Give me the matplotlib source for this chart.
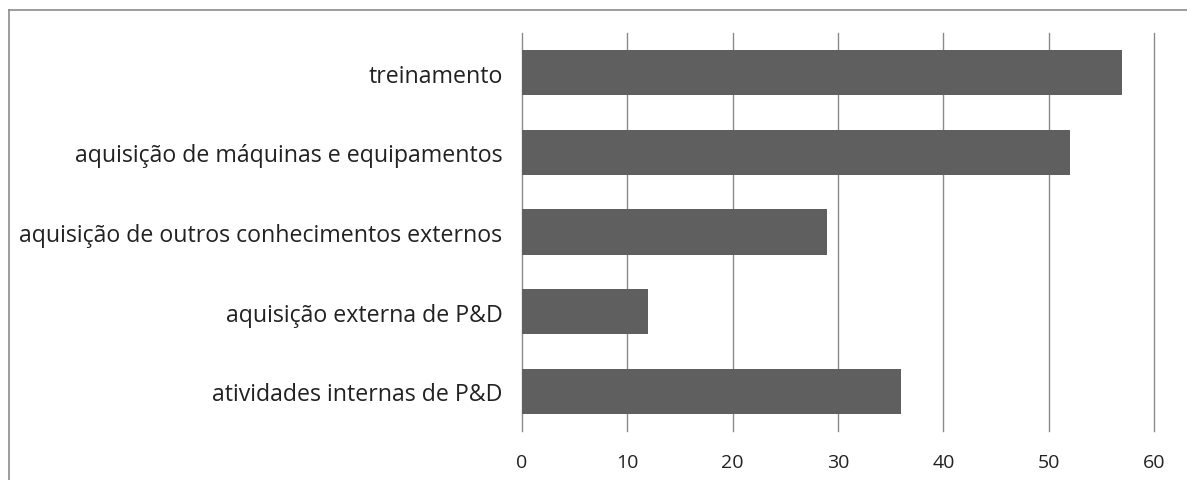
import matplotlib.pyplot as plt
from matplotlib.lines import Line2D

# Activities and the number of firms citing each one
atividades = [
    "treinamento",
    "aquisição de máquinas e equipamentos",
    "aquisição de outros conhecimentos externos",
    "aquisição externa de P&D",
    "atividades internas de P&D",
]
valores = [57, 52, 29, 12, 36]
ticks_x = [0, 10, 20, 30, 40, 50, 60]

plt.rcParams['font.family'] = ['Open Sans', 'DejaVu Sans']

W, H = 1187, 481
fig = plt.figure(figsize=(W / 100, H / 100), dpi=100)

# axes box in pixels: left 522, right 1154, top 34, bottom 432
ax = fig.add_axes([522 / W, 1 - 432 / H, (1154 - 522) / W, (432 - 34) / H])

pos = list(range(len(atividades)))
ax.barh(pos, valores, height=0.57, color="#5f5f5f", zorder=2)
ax.set_ylim(len(atividades) - 0.5, -0.5)
ax.set_xlim(0, 60)
ax.set_xticks(ticks_x)
ax.set_yticks(pos)
ax.set_yticklabels(atividades)

ax.grid(axis="x", color="#8a8a8a", linewidth=1.0, zorder=1)
for gl in ax.get_xgridlines():
    gl.set_clip_on(False)
ax.set_axisbelow(True)
for s in ax.spines.values():
    s.set_visible(False)
ax.tick_params(axis="both", length=0, colors="#222222")
ax.tick_params(axis="y", labelsize=16.7, pad=14)
ax.tick_params(axis="x", labelsize=14, pad=16)

# outer chart frame (top and left edges visible)
fig.add_artist(Line2D([9 / W, 1], [1 - 11 / H, 1 - 11 / H], color="#8c8c8c", lw=1.2, transform=fig.transFigure))
fig.add_artist(Line2D([9 / W, 9 / W], [0, 1 - 11 / H], color="#8c8c8c", lw=1.2, transform=fig.transFigure))

fig.savefig("out.png", dpi=100)
